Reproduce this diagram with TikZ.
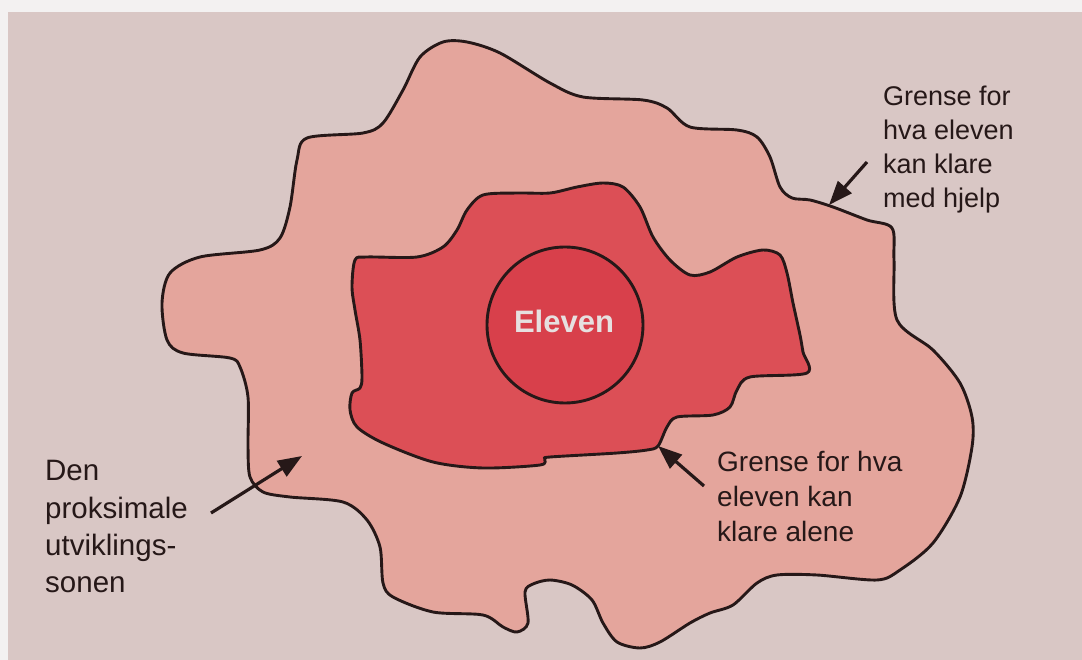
\documentclass[tikz,border=0pt]{standalone}
\usepackage{fontspec}
\setmainfont{Liberation Sans}
\usetikzlibrary{arrows.meta}
\definecolor{paper}{HTML}{D9C7C5}
\definecolor{paperedge}{HTML}{F3F1F1}
\definecolor{outerfill}{HTML}{E4A59C}
\definecolor{innerfill}{HTML}{DC4F56}
\definecolor{corefill}{HTML}{D8404B}
\definecolor{ink}{HTML}{261818}
\definecolor{coretext}{HTML}{E6E0E0}
\tikzset{
  contour/.style={draw=ink, line width=2.9pt, line join=round},
  label/.style={text=ink, inner sep=0pt, align=left, anchor=north west},
  pointer/.style={draw=ink, line width=3.2pt, -{Triangle[length=24pt,width=18pt]}},
}
\begin{document}
\begin{tikzpicture}[x=1pt,y=-1pt]
\useasboundingbox (0,0) rectangle (1082,660);
\fill[paperedge] (0,0) rectangle (1082,660);
\fill[paper] (8,12) rectangle (1082,660);
% outer zone
\draw[contour, fill=outerfill] plot[smooth cycle, tension=0.5] coordinates {
(162,303) (170,273) (200,257) (260,250) (280,238) (290,207) (297,160) (307,138)
(363,133) (383,123) (403,90) (420,57) (443,42) (467,42) (500,53) (550,83)
(583,97) (643,100) (667,108) (690,127) (737,130) (757,137) (770,157) (780,187)
(792,198) (810,200) (833,207) (867,220) (892,228) (894,260) (897,320) (933,350)
(960,383) (972,417) (972,447) (960,497) (933,543) (900,570) (877,580) (817,575)
(777,575) (757,583) (733,605) (710,613) (690,623) (660,642) (640,648) (617,642)
(603,623) (592,600) (572,585) (550,580) (533,584) (525,592) (528,623) (517,632)
(503,627) (483,615) (433,612) (393,597) (383,583) (380,547) (367,520) (343,502)
(290,497) (263,492) (250,477) (248,447) (248,397) (240,367) (230,358) (183,353)
(167,340)};
% inner zone
\draw[contour, fill=innerfill] plot[smooth cycle, tension=0.5] coordinates {
(355,260) (367,257) (417,257) (443,247) (457,230) (467,210) (483,195) (517,193)
(550,193) (577,187) (603,183) (623,187) (640,207) (653,237) (670,260) (690,275)
(710,272) (737,257) (763,250) (780,255) (787,273) (793,303) (800,335) (803,352)
(807,373) (750,377) (737,390) (730,407) (713,415) (677,417) (667,427) (658,446)
(647,450) (617,453) (550,457) (545,459) (540,465) (483,468) (433,462) (383,443)
(357,427) (350,410) (352,393) (360,388) (362,377) (360,340) (355,310) (352,287)};
% core
\node[circle, draw=ink, line width=2.9pt, fill=corefill, minimum size=156pt, inner sep=0pt] (core) at (565,325) {};
\node[text=coretext, font=\bfseries\fontsize{31}{36}\selectfont, anchor=base, inner sep=0pt] (eleven) at (564,333) {Eleven};
% labels
\node[label, font=\fontsize{27}{34}\selectfont] (help) at (883,85.5) {Grense for\\hva eleven\\kan klare\\med hjelp};
\node[label, font=\fontsize{28}{35}\selectfont] (alone) at (717,451.5) {Grense for hva\\eleven kan\\klare alene};
\node[label, font=\fontsize{29.5}{37.2}\selectfont] (zone) at (45,460.5) {Den\\proksimale\\utviklings-\\sonen};
% arrow ends
\coordinate (helptail) at (867,162);
\coordinate (helptip) at (829,205);
\coordinate (alonetail) at (704,486);
\coordinate (alonetip) at (658,446);
\coordinate (zonetail) at (211,513);
\coordinate (zonetip) at (302,456);
\draw[pointer] (helptail) -- (helptip);
\draw[pointer] (alonetail) -- (alonetip);
\draw[pointer] (zonetail) -- (zonetip);
\end{tikzpicture}
\end{document}
